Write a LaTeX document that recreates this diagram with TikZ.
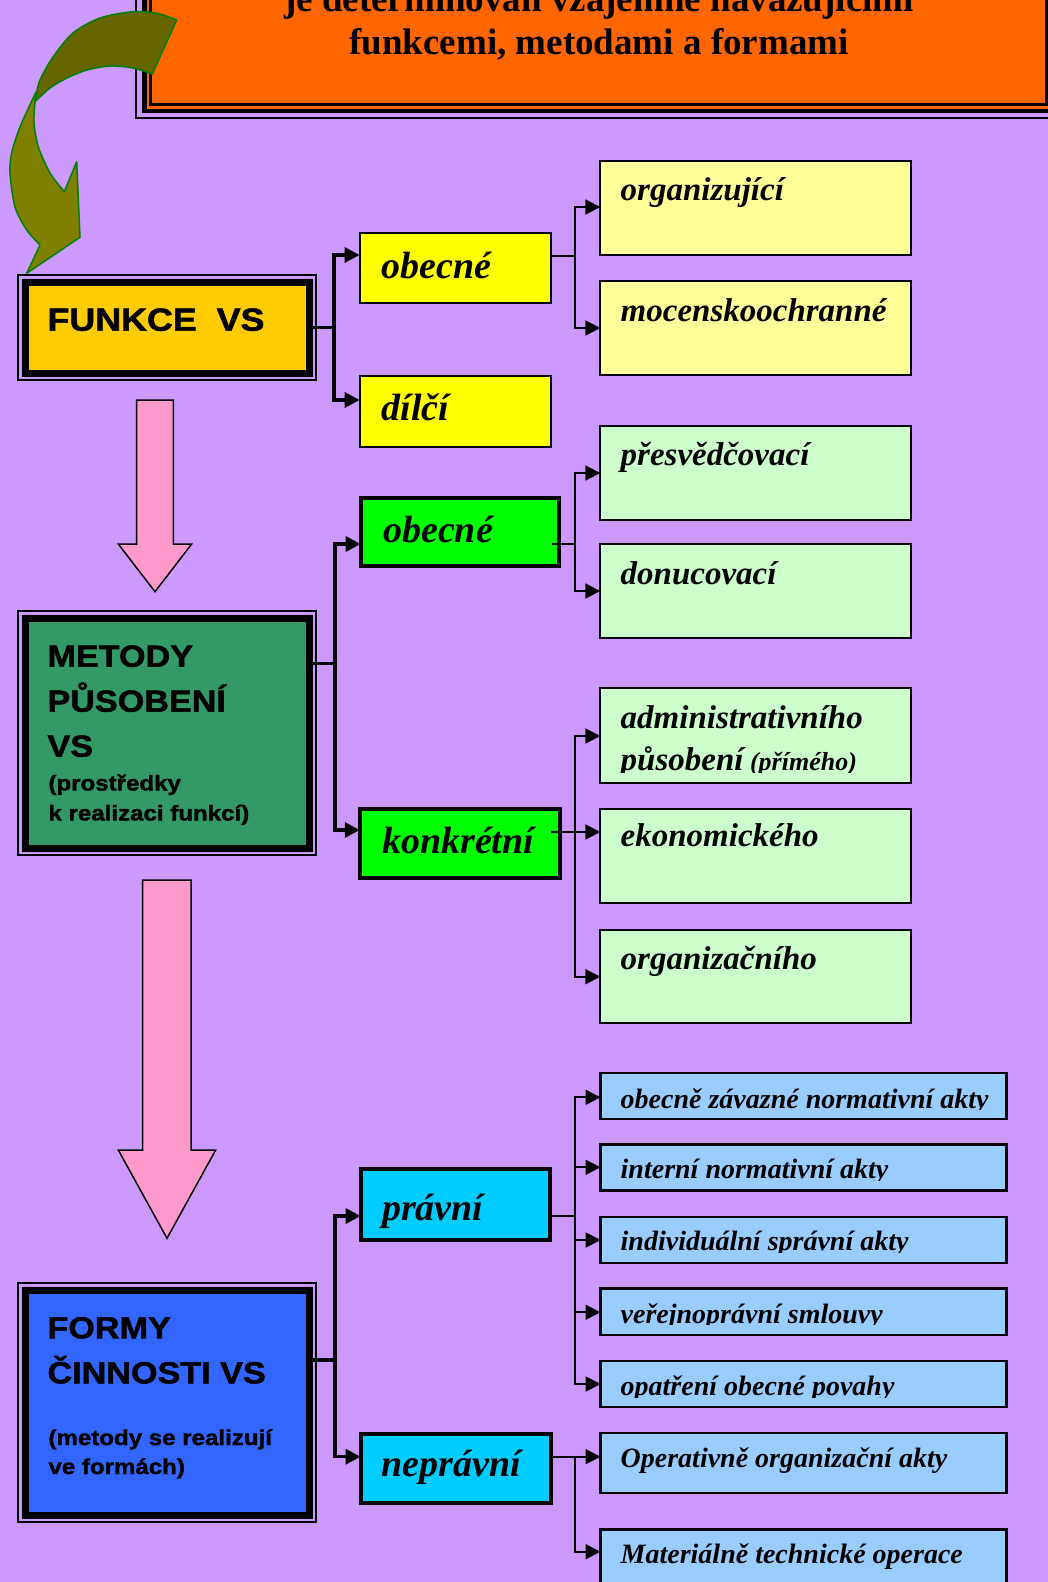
\documentclass[tikz,border=0pt]{standalone}
\usepackage{fontspec}
\setmainfont{Liberation Serif}
\newfontfamily\sansbf[FakeStretch=1.12,FakeBold=1.6]{Liberation Sans}
\usetikzlibrary{arrows.meta}
\definecolor{bgc}{HTML}{CC99FF}
\definecolor{titlec}{HTML}{FF6600}
\definecolor{funkcec}{HTML}{FFCC00}
\definecolor{metodyc}{HTML}{339966}
\definecolor{formyc}{HTML}{3366FF}
\definecolor{yel}{HTML}{FFFF00}
\definecolor{lyel}{HTML}{FFFF99}
\definecolor{grn}{HTML}{00FF00}
\definecolor{lgrn}{HTML}{CCFFCC}
\definecolor{cyn}{HTML}{00CCFF}
\definecolor{lblu}{HTML}{99CCFF}
\definecolor{pinkc}{HTML}{FF99CC}
\definecolor{olivedk}{HTML}{666600}
\definecolor{olivelt}{HTML}{808000}
\definecolor{arrgreen}{HTML}{008000}
\newcommand\mkbox[6]{\node[#2, minimum width={#5-#3}, minimum height={#6-#4}] (#1) at ({(#3+#5)/2},{(#4+#6)/2}) {};}
\begin{document}
\begin{tikzpicture}[x=1pt,y=-1pt,
  frbox/.style={draw=black, line width=7pt, inner sep=0pt, outer sep=0pt},
  thinframe/.style={draw=black, line width=2pt},
  bx/.style={draw=black, inner sep=0pt, outer sep=0pt},
  yb/.style={bx, fill=yel, line width=2.2pt},
  lyb/.style={bx, fill=lyel, line width=2pt},
  gb/.style={bx, fill=grn, line width=4pt},
  lgb/.style={bx, fill=lgrn, line width=2pt},
  cb/.style={bx, fill=cyn, line width=3.8pt},
  lbb/.style={bx, fill=lblu, line width=2.4pt},
  c1/.style={draw=black, line width=3.5pt},
  c2/.style={draw=black, line width=2pt},
  arrhead/.style={-{Triangle[length=15pt,width=15pt]}},
  ttl/.style={anchor=base, inner sep=0pt, font=\fontsize{37}{44}\selectfont\bfseries},
  bigsans/.style={anchor=base west, inner sep=0pt, font=\sansbf\fontsize{30.5}{36}\selectfont\bfseries},
  smallsans/.style={anchor=base west, inner sep=0pt, font=\sansbf\fontsize{21.5}{26}\selectfont\bfseries},
  lab1/.style={anchor=base west, inner sep=0pt, font=\fontsize{38}{44}\selectfont\bfseries\itshape},
  lab2/.style={anchor=base west, inner sep=0pt, font=\fontsize{33}{38}\selectfont\bfseries\itshape},
  lab3/.style={anchor=base west, inner sep=0pt, font=\fontsize{28}{32}\selectfont\bfseries\itshape},
  pinkarr/.style={fill=pinkc, draw=black, line width=1.5pt, line join=miter},
  curvlt/.style={fill=olivelt, draw=arrgreen, line width=1.5pt, line join=round},
  curvdk/.style={fill=olivedk, draw=arrgreen, line width=1.5pt, line join=round}]
\useasboundingbox (0,0) rectangle (1048,1582);
\clip (0,0) rectangle (1048,1582);
\fill[bgc] (0,0) rectangle (1048,1582);

% title frame
\draw[line width=2pt] (136,-60) rectangle (1062,118);
\filldraw[fill=titlec, line width=4.5pt] (144.5,-60) rectangle (1054,111);
\draw[line width=2.5pt] (150.5,-60) rectangle (1046.5,104.5);
\node[ttl] (title1) at (599,11) {je determinován vzájemně navazujícími};
\node[ttl] (title2) at (599,54) {funkcemi, metodami a formami};

% curved arrow
\filldraw[curvlt] plot[smooth] coordinates {(36,92) (20,127) (11.7,153) (10,173) (15,207) (26.7,230) (40,245)}
  -- (26.7,273.3) -- (80,237.3) -- (76.7,161.7) -- (64.3,191.7)
  -- plot[smooth] coordinates {(64.3,191.7) (50,173) (38.3,146.7) (34,123) (35,101.7)} -- cycle;
\filldraw[curvdk] plot[smooth] coordinates {(36,96) (40,80) (53,57) (73,33) (100,18) (133,11.7) (157,13.3) (176.7,20)}
  -- (152.3,74)
  -- plot[smooth] coordinates {(152.3,74) (133,68) (110,66) (87,70) (67,78) (50,88) (35,101.7)} -- cycle;

% pink arrows
\filldraw[pinkarr] (136.7,400) -- (173.3,400) -- (173.3,544) -- (191.7,544) -- (155,591.7) -- (118.3,544) -- (136.7,544) -- cycle;
\filldraw[pinkarr] (142.7,880) -- (191,880) -- (191,1150) -- (215.7,1150) -- (167,1238.3) -- (118.3,1150) -- (142.7,1150) -- cycle;

% main framed boxes
\mkbox{funkce}{frbox, fill=funkcec}{25.3}{282}{309}{373.3}
\mkbox{metody}{frbox, fill=metodyc}{25.3}{618.3}{309}{848.3}
\mkbox{formy}{frbox, fill=formyc}{25.3}{1290}{309}{1515}
\foreach \n in {funkce,metody,formy}
  \draw[thinframe] ([shift={(-7pt,7pt)}]\n.north west) rectangle ([shift={(7pt,-7pt)}]\n.south east);

\node[bigsans, font=\sansbf\fontsize{32}{38}\selectfont\bfseries] (funkcet) at (47.3,330.7) {FUNKCE\ \ VS};
\node[bigsans] (met1) at (47.3,666.7) {METODY};
\node[bigsans] (met2) at (47.3,711.7) {PŮSOBENÍ};
\node[bigsans] (met3) at (47.3,756.7) {VS};
\node[smallsans] (met4) at (48.3,790.5) {(prostředky};
\node[smallsans] (met5) at (48.3,820.5) {k realizaci funkcí)};
\node[bigsans] (for1) at (47.3,1338.3) {FORMY};
\node[bigsans] (for2) at (47.3,1383.3) {ČINNOSTI VS};
\node[smallsans] (for3) at (48.3,1445) {(metody se realizují};
\node[smallsans] (for4) at (48.3,1474) {ve formách)};

% first-level boxes
\mkbox{obA}{yb}{359.6}{232.7}{550.9}{303}
\mkbox{dilci}{yb}{359.6}{376}{551}{447}
\mkbox{obB}{gb}{360.7}{497.7}{559}{566}
\mkbox{konk}{gb}{359.8}{809.3}{559.8}{878}
\mkbox{prav}{cb}{360.7}{1169.3}{549.7}{1239.7}
\mkbox{neprav}{cb}{360.6}{1433.7}{551}{1503}

% second-level boxes
\mkbox{org}{lyb}{600.3}{161}{910.7}{255}
\mkbox{moc}{lyb}{600.3}{281}{910.7}{375}
\mkbox{pres}{lgb}{600.3}{426}{910.7}{520}
\mkbox{donu}{lgb}{600.3}{544}{910.7}{638}
\mkbox{admin}{lgb}{600.3}{688.3}{910.7}{783}
\mkbox{ekon}{lgb}{600.3}{808.7}{910.7}{903}
\mkbox{orgz}{lgb}{600.3}{930}{910.7}{1023}
\mkbox{obz}{lbb}{600.5}{1073}{1006.5}{1119}
\mkbox{intr}{lbb}{600.5}{1144.5}{1006.5}{1190.5}
\mkbox{indiv}{lbb}{600.5}{1217}{1006.5}{1263}
\mkbox{verej}{lbb}{600.5}{1288.5}{1006.5}{1335}
\mkbox{opat}{lbb}{600.5}{1361}{1006.5}{1407}
\mkbox{oper}{lbb}{600.5}{1433}{1006.5}{1493}
\mkbox{mater}{lbb}{600.5}{1529.5}{1006.5}{1600}

% first-level connectors
\draw[c1] (funkce.east) -- ++(25,0) coordinate (j1);
\draw[c1,arrhead] (j1) |- ([yshift=-22.3pt]obA.north west);
\draw[c1,arrhead] (j1) |- ([yshift=-24pt]dilci.north west);
\draw[c1] ([yshift=-45pt]metody.north east) -- ++(26,0) coordinate (j2);
\draw[c1,arrhead] (j2) |- ([yshift=-46.3pt]obB.north west);
\draw[c1,arrhead] (j2) |- ([yshift=-20.7pt]konk.north west);
\draw[c1] ([yshift=-70pt]formy.north east) -- ++(26,0) coordinate (j3);
\draw[c1,arrhead] (j3) |- ([yshift=-46.7pt]prav.north west);
\draw[c1,arrhead] (j3) |- ([yshift=-23pt]neprav.north west);

% second-level connectors
\draw[c2] ([yshift=-23.3pt]obA.north east) -- ++(24.1,0) coordinate (k1);
\draw[c2,arrhead] (k1) |- ([yshift=-46pt]org.north west);
\draw[c2,arrhead] (k1) |- ([yshift=-47pt]moc.north west);
\draw[c2] ([xshift=-7.3pt,yshift=-46.3pt]obB.north east) -- ++(23.3,0) coordinate (k2);
\draw[c2,arrhead] (k2) |- ([yshift=-47pt]pres.north west);
\draw[c2,arrhead] (k2) |- ([yshift=-47pt]donu.north west);
\draw[c2] ([xshift=-8.8pt,yshift=-22.7pt]konk.north east) -- ++(24,0) coordinate (k3);
\draw[c2,arrhead] (k3) |- ([yshift=-47.7pt]admin.north west);
\draw[c2,arrhead] (k3) |- ([yshift=-23.3pt]ekon.north west);
\draw[c2,arrhead] (k3) |- ([yshift=-46.7pt]orgz.north west);
\draw[c2] ([yshift=-46.7pt]prav.north east) -- ++(25.3,0) coordinate (k4);
\draw[c2,arrhead] (k4) |- ([yshift=-24.3pt]obz.north west);
\draw[c2,arrhead] (k4) |- ([yshift=-22.8pt]intr.north west);
\draw[c2,arrhead] (k4) |- ([yshift=-23pt]indiv.north west);
\draw[c2,arrhead] (k4) |- ([yshift=-23.8pt]verej.north west);
\draw[c2,arrhead] (k4) |- ([yshift=-23pt]opat.north west);
\draw[c2] ([yshift=-23pt]neprav.north east) -- ++(24,0) coordinate (k5);
\draw[c2,arrhead] (k5) |- ([yshift=-23.7pt]oper.north west);
\draw[c2,arrhead] (k5) |- ([yshift=-22.2pt]mater.north west);

% first-level labels
\node[lab1] (obAt) at (381.5,278) {obecné};
\node[lab1] (dilcit) at (381.5,420) {dílčí};
\node[lab1] (obBt) at (383,542.7) {obecné};
\node[lab1] (konkt) at (382,853) {konkrétní};
\node[lab1] (pravt) at (382,1220) {právní};
\node[lab1] (nepravt) at (381.5,1476.7) {neprávní};

% second-level labels
\node[lab2] (orgt) at (620.5,200) {organizující};
\node[lab2] (moct) at (620.5,321.5) {mocenskoochranné};
\node[lab2] (prest) at (620.5,465.5) {přesvědčovací};
\node[lab2] (donut) at (620.5,584.5) {donucovací};
\node[lab2] (admint) at (620.5,728.3) {administrativního};
\begin{scope}
\clip (610,740) rectangle (905,772);
\node[lab2] (admint2) at (620.5,770) {působení{\fontsize{26}{30}\selectfont\ (přímého)}};
\end{scope}
\node[lab2] (ekont) at (620.5,846.7) {ekonomického};
\node[lab2] (orgzt) at (620.5,969) {organizačního};

\begin{scope}
\clip (605,1076) rectangle (1003,1109.5);
\node[lab3] (obzt) at (620.5,1108) {obecně závazné normativní akty};
\end{scope}
\begin{scope}
\clip (605,1147) rectangle (1003,1180);
\node[lab3] (intrt) at (620.5,1178.5) {interní normativní akty};
\end{scope}
\begin{scope}
\clip (605,1219) rectangle (1003,1252);
\node[lab3] (indivt) at (620.5,1250.5) {individuální správní akty};
\end{scope}
\begin{scope}
\clip (605,1291) rectangle (1003,1324.5);
\node[lab3] (verejt) at (620.5,1323) {veřejnoprávní smlouvy};
\end{scope}
\begin{scope}
\clip (605,1363) rectangle (1003,1397);
\node[lab3] (opatt) at (620.5,1395.5) {opatření obecné povahy};
\end{scope}
\node[lab3] (opert) at (620.5,1467.5) {Operativně organizační akty};
\node[lab3] (matert) at (620.5,1563.3) {Materiálně technické operace};
\end{tikzpicture}
\end{document}
